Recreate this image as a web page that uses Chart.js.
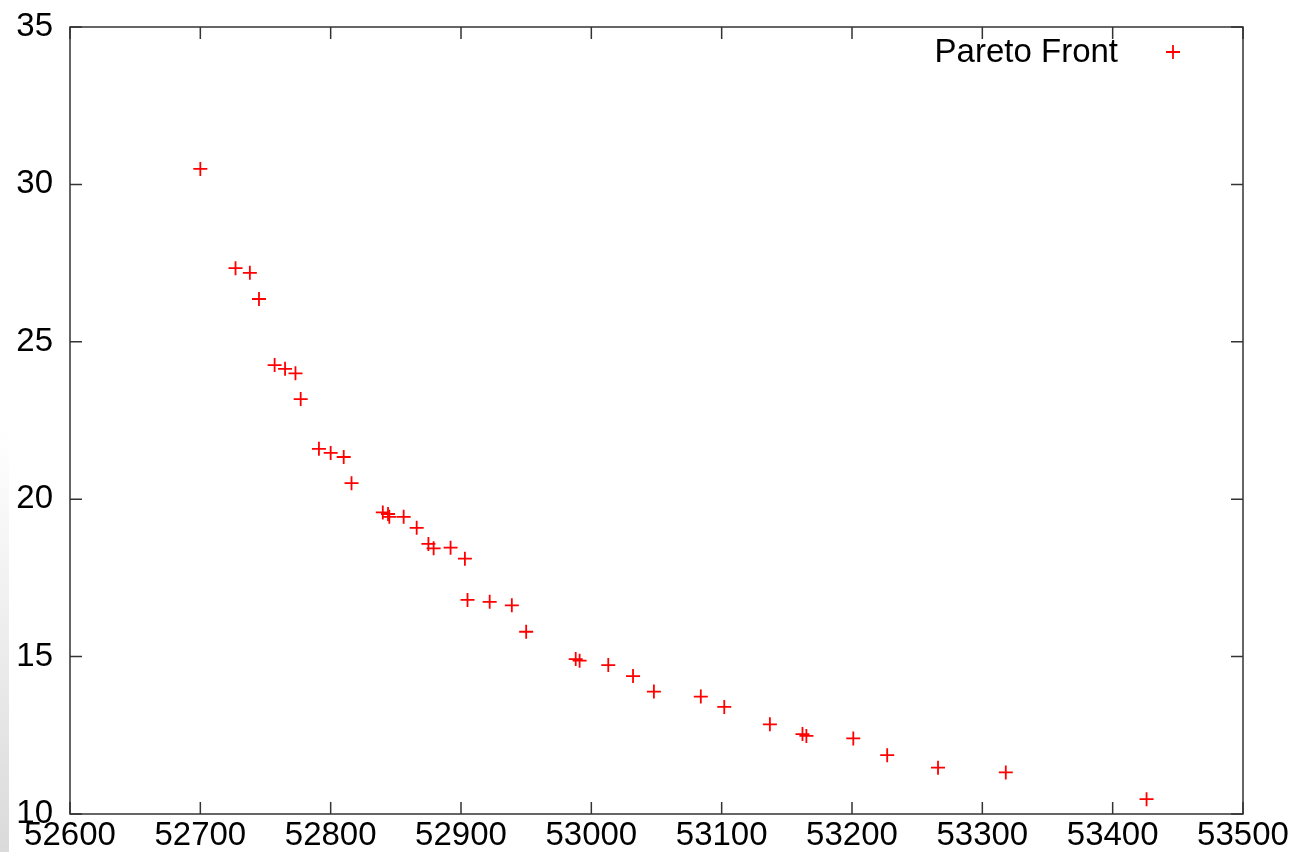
<!DOCTYPE html>
<html>
<head>
<meta charset="utf-8">
<script src="https://cdn.jsdelivr.net/npm/chart.js@4.4.0/dist/chart.umd.min.js"></script>
<style>
    html, body { margin: 0; padding: 0; background: #fff; }
    #wrap { position: relative; width: 1289px; height: 852px; }
    #edge { position: absolute; left: 0; top: 430px; width: 9px; height: 422px;
            background: linear-gradient(to bottom, #ffffff, #dadada); }
</style>
</head>
<body>
<div id="wrap">
    <canvas id="paretoChart" width="1289" height="852"></canvas>
    <div id="edge"></div>
</div>
<script>
// data
var seriesLabel = 'Pareto Front';
var paretoX = [52700, 52727, 52738, 52745, 52757, 52765, 52773, 52777, 52791, 52800,
               52810, 52816, 52840, 52844, 52845, 52856, 52866, 52875, 52879, 52892,
               52903, 52905, 52922, 52939, 52950, 52988, 52991, 53013, 53032, 53048,
               53084, 53102, 53137, 53162, 53165, 53201, 53227, 53266, 53318, 53426];
var paretoY = [30.49, 27.34, 27.19, 26.36, 24.26, 24.14, 24.00, 23.18, 21.60, 21.47,
               21.34, 20.51, 19.58, 19.53, 19.44, 19.44, 19.09, 18.58, 18.44, 18.46,
               18.11, 16.80, 16.74, 16.63, 15.79, 14.92, 14.87, 14.73, 14.38, 13.89,
               13.73, 13.40, 12.85, 12.54, 12.48, 12.40, 11.87, 11.47, 11.32, 10.47];
var xMin = 52600, xMax = 53500, xStep = 100;
var yMin = 10, yMax = 35, yStep = 5;

var points = paretoX.map(function (x, i) {
    return { x: x, y: paretoY[i] };
});

var FONT = 'Liberation Sans, Arial, sans-serif';

// gnuplot-like frame: box round the plot with inward ticks on all four sides
var frameTicks = {
    id: 'frameTicks',
    afterDraw: function (chart) {
        var ctx = chart.ctx;
        var a = chart.chartArea;
        var len = 12;
        ctx.save();
        ctx.strokeStyle = '#333';
        ctx.lineWidth = 1.5;
        ctx.strokeRect(a.left, a.top, a.right - a.left, a.bottom - a.top);
        ctx.beginPath();
        chart.scales.x.ticks.forEach(function (t) {
            var px = chart.scales.x.getPixelForValue(t.value);
            ctx.moveTo(px, a.bottom); ctx.lineTo(px, a.bottom - len);
            ctx.moveTo(px, a.top); ctx.lineTo(px, a.top + len);
        });
        chart.scales.y.ticks.forEach(function (t) {
            var py = chart.scales.y.getPixelForValue(t.value);
            ctx.moveTo(a.left, py); ctx.lineTo(a.left + len, py);
            ctx.moveTo(a.right, py); ctx.lineTo(a.right - len, py);
        });
        ctx.stroke();

        // key, text first then the sample, like gnuplot
        ctx.fillStyle = '#000';
        ctx.font = '33px ' + FONT;
        ctx.textAlign = 'right';
        ctx.textBaseline = 'alphabetic';
        ctx.fillText(chart.data.datasets[0].label, a.right - 125, a.top + 35);
        var cx = a.right - 70, cy = a.top + 25, r = 7;
        ctx.strokeStyle = chart.data.datasets[0].borderColor;
        ctx.lineWidth = 1.8;
        ctx.beginPath();
        ctx.moveTo(cx - r, cy); ctx.lineTo(cx + r, cy);
        ctx.moveTo(cx, cy - r); ctx.lineTo(cx, cy + r);
        ctx.stroke();
        ctx.restore();
    }
};

var ctx = document.getElementById('paretoChart').getContext('2d');
var chart = new Chart(ctx, {
    type: 'scatter',
    data: {
        datasets: [{
            label: seriesLabel,
            data: points,
            pointStyle: 'cross',
            pointRadius: 7,
            pointHoverRadius: 7,
            borderWidth: 1.8,
            borderColor: '#ff0000',
            backgroundColor: '#ff0000'
        }]
    },
    options: {
        responsive: false,
        animation: false,
        events: [],
        layout: { padding: { top: 27, right: 46, left: 0, bottom: 0 } },
        plugins: {
            legend: { display: false },
            tooltip: { enabled: false }
        },
        scales: {
            x: {
                type: 'linear',
                min: xMin,
                max: xMax,
                grid: { display: false, drawTicks: false },
                border: { display: false },
                ticks: {
                    stepSize: xStep,
                    autoSkip: false,
                    maxRotation: 0,
                    padding: 2,
                    color: '#000',
                    font: { family: FONT, size: 33 },
                    callback: function (v) { return String(v); }
                },
                afterFit: function (scale) {
                    scale.height = 38;
                    scale.paddingLeft = 0;
                    scale.paddingRight = 0;
                }
            },
            y: {
                type: 'linear',
                min: yMin,
                max: yMax,
                grid: { display: false, drawTicks: false },
                border: { display: false },
                ticks: {
                    stepSize: yStep,
                    padding: 17,
                    color: '#000',
                    font: { family: FONT, size: 33 }
                },
                afterFit: function (scale) {
                    scale.width = 70;
                    scale.paddingTop = 0;
                    scale.paddingBottom = 0;
                }
            }
        }
    },
    plugins: [frameTicks]
});
</script>
</body>
</html>
